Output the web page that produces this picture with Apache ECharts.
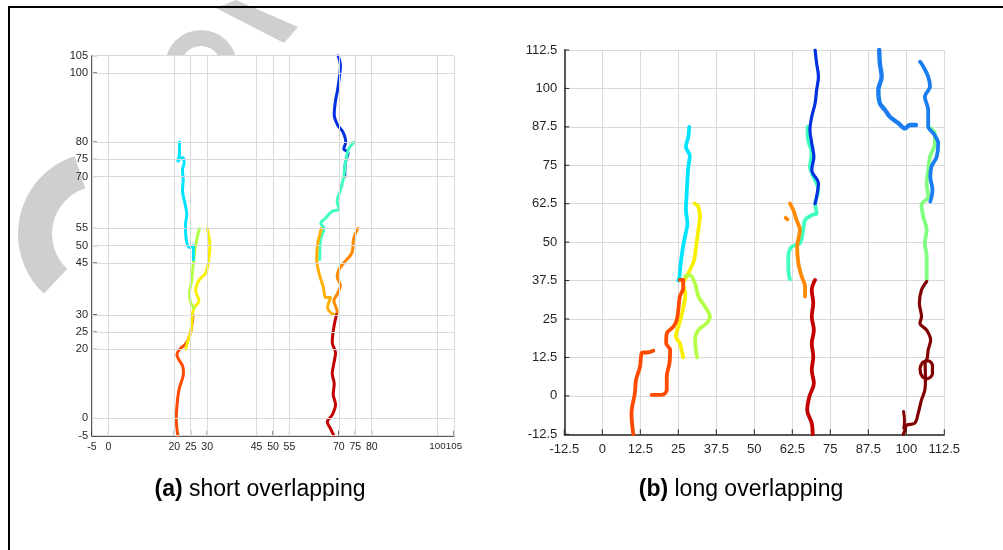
<!DOCTYPE html>
<html><head><meta charset="utf-8">
<script src="https://cdn.jsdelivr.net/npm/echarts@6/dist/echarts.min.js"></script>
<style>html,body{margin:0;padding:0;background:#fff}#c{width:1003px;height:550px}</style>
</head><body><div id="c"></div>
<script>
// ---- Tick values ----
const leftTicks = [-5, 0, 20, 25, 30, 45, 50, 55, 70, 75, 80, 100, 105];
const rightMin = -12.5, rightMax = 112.5, rightStep = 12.5;

// ---- (a) short overlapping trajectories [x, y] ----
const aOrangeRed = [[21.1,-5],[20.6,0],[20.8,3.4],[21.4,8.2],[22.3,11],[22.8,13],[22.6,15],[21.4,17],[20.8,18.4],[21.6,20],[23.6,21.7],[24.9,24.6],[25.4,27.5],[25.7,30]];
const aYellow = [[30,55],[30.8,50],[30.3,45],[29.5,42],[27.5,40],[26.5,37],[27.5,34],[26,32],[25.5,30],[25,25],[24,22],[23.5,20]];
const aYellowGreen = [[27.6,55],[26.5,50],[25.8,45],[25.3,40],[24.6,36],[25,33.5],[26,32]];
const aCyan = [[21.6,80],[21.6,77],[21.1,74.5],[22.5,75.5],[23,74],[22.5,72],[22.7,69],[22.5,66],[23.3,62],[23.8,59],[23.4,56],[23.6,52],[24.6,49.5],[25.8,50],[25.8,46]];
const aBlue = [[69.8,105],[70.5,102],[70.2,99],[69.6,95],[69,92],[68.6,88],[69.6,85],[71.2,83],[72.1,80],[71.5,78],[72.8,77],[72,74],[71.8,70]];
const aAqua = [[74.7,80],[73,78],[72,74],[71.5,70],[70.5,66],[69.5,63],[70,60.5],[68,60],[66,58],[64.5,56.5],[65.5,55],[64.5,52],[64.2,46]];
const aAmber = [[64.7,55],[63.5,50],[63.3,46],[64,42],[65.3,38],[66,35],[67.5,35],[66.6,32],[68.5,30]];
const aOrange = [[75.8,55],[74.5,52],[74,48],[71.5,45],[70,43],[69.5,41],[70.5,38.5],[69.5,36],[68.5,34],[69.5,31],[69.3,30]];
const aDarkRed = [[69.3,30],[68.6,27],[68,22],[69,19],[68.5,16],[68,13],[68.6,10],[68.3,7],[69,4],[68,1],[66.5,-1],[67.5,-3],[68.5,-5]];

// ---- (b) long overlapping trajectories [x, y] ----
const bCyan = [[28.6,87.5],[28.3,84.3],[27.5,81],[28.8,78],[28.3,74.6],[28,70.2],[27.7,64.8],[27.5,60.5],[28,56.1],[27.2,51.8],[26.4,47.5],[25.8,43.1],[25.3,38.2],[25,37.5]];
const bYellow = [[30.3,62.6],[31.6,61.5],[32.1,58.3],[31.6,54],[31,49.6],[30.2,44.2],[28.8,40.9],[27.2,37.9],[26.6,36.6],[27.3,33],[26.5,28],[25.5,24],[24.2,19.3],[25.5,17.1],[26.1,14.9],[26.6,12.5]];
const bYellowGreen = [[27.2,38.8],[28.8,39.3],[30.5,36.6],[31.6,32.3],[33.8,29],[35.4,25.8],[34.3,23.6],[31.6,21.4],[30.5,18.2],[30.8,14.9],[31.2,12.5]];
const bRedA = [[25.5,37.7],[26.6,37.7],[26.6,35],[25.5,32.3],[25,27.9],[24.5,24.7],[23.4,22.5],[21.2,20.3],[21,17.1],[22.3,15],[22.1,10.6],[21.2,6.3],[21.2,1.9],[19.5,0.3],[16.2,0.3]];
const bRedB = [[10.2,-12.5],[9.6,-5.7],[10.7,0.8],[11.1,5.2],[12.4,9.5],[12.9,13.8],[13.5,14.1],[14.6,14.1],[16.8,14.7]];
const bBlue = [[70,112.5],[70.5,108.2],[71.1,103.8],[70.5,99.5],[70,95.2],[68.9,90.8],[68.3,86.5],[68.9,82.1],[69.6,77.8],[68.9,73.5],[71.1,69.1],[70.5,64.8],[70,62.5]];
const bAqua = [[67.5,87.5],[67.7,83.2],[68.9,78.9],[68.3,74.6],[70,70.2],[71.1,67],[70,62.5],[70.5,59.4],[68.9,58.8],[66.7,57.2],[66.1,54],[65,49.6],[62.3,48.5],[61.2,45.3],[61.2,41],[61.7,37.9]];
const bOrange = [[61.7,62.6],[62.8,60.5],[63.9,57.2],[65,54],[64.1,48.5],[64.5,43.1],[65.6,38.8],[66.7,35.5],[66.7,32.3]];
const bOrangeDot = [[60.3,57.9],[60.9,57.4]];
const bDarkRed = [[70,37.7],[68.9,34.4],[69.4,30.1],[68.9,25.8],[69.6,21.4],[68.9,17.1],[69.4,12.7],[68.9,8.4],[69.6,4.1],[68.1,-0.3],[67.4,-4.6],[68.9,-8.9],[69.2,-12.5]];
const bAzureA = [[91.1,112.5],[91.3,108.2],[91.9,103.8],[90.8,99.5],[91.3,95.2],[93,93],[94.6,90.8],[97.4,88.7],[99.6,87],[101.2,88.1],[103.2,88.1]];
const bAzureB = [[104.5,108.7],[105.6,107.1],[107.2,103.8],[107.8,100.6],[106.1,97.3],[107.2,93],[107.2,87.5],[108.9,85.4],[110.5,82.1],[110,77.8],[108.3,74.6],[107.9,71.3],[108.6,67],[107.9,63.2]];
const bLightGreen = [[107.2,87.5],[109.4,85.4],[109.4,82.1],[107.8,77.8],[107.2,73.5],[106.7,69.1],[107.2,64.8],[105,62.1],[105.6,58.3],[106.7,54],[106.1,49.6],[106.7,45.3],[106.7,41],[106.7,37.7]];
const bMaroon = [[106.7,37.2],[105,34.4],[104.3,30.1],[105,25.8],[104.5,23.6],[106.7,21.4],[108,18.2],[107.2,14.9],[106.7,11.7],[105.3,10.8],[104.5,8.8],[105.3,6.2],[107,5.6],[108.6,7.2],[108.6,9.8],[107.3,11.4],[106.2,11],[106.3,5.5],[106.1,1.9],[105,-1.3],[103.9,-5.7],[102.8,-8.9],[100.1,-9.5],[99.6,-11.1],[99,-12.5]];
const bMaroonSpike = [[99.1,-5.1],[99.4,-8],[99.2,-10.5]];

// ---- colours ----
const C = {
  orangeRed:'#ff4a00', yellow:'#f8f000', yellowGreen:'#b4ff48', cyan:'#00e4ff',
  blue:'#0030e0', aqua:'#40ffc0', amber:'#ffb000', orange:'#ff8a00',
  darkRed:'#c20000', azure:'#1a7ef0', lightGreen:'#80ff80', maroon:'#820000'
};

const chart = echarts.init(document.getElementById('c'), null, {renderer:'canvas'});

function track(data, color, axis, width){
  return {type:'line', xAxisIndex:axis, yAxisIndex:axis, data:data, showSymbol:false,
    smooth:0.35, z:3, silent:true, lineStyle:{color:color, width:width, cap:'round', join:'round'}};
}
const axisLineStyle = {color:'#262626', width:1.5};
const gridLine = {color:'#dadada', width:1};
const font = 'Liberation Sans, Arial';

// inward ticks drawn through the axes' scales
function tickSeries(axis, xs, ys){
  const items = xs.map(v=>[v,'x']).concat(ys.map(v=>[v,'y']));
  return {type:'custom', xAxisIndex:axis, yAxisIndex:axis, z:4, silent:true, clip:false,
    data: items.map((d,i)=>[i]),
    renderItem:function(params, api){
      const it = items[api.value(0)];
      const cs = params.coordSys;
      let p, q;
      if (it[1]==='x'){ p = api.coord([it[0], 0]); p = [p[0], cs.y+cs.height]; q=[p[0], p[1]-5]; }
      else { p = api.coord([0, it[0]]); p = [cs.x, p[1]]; q=[p[0]+5, p[1]]; }
      return {type:'line', shape:{x1:p[0], y1:p[1], x2:q[0], y2:q[1]}, style:{stroke:'#262626', lineWidth:1}};
    }};
}
const rightTicks = [];
for (let v = rightMin; v <= rightMax + 1e-9; v += rightStep) rightTicks.push(v);

const option = {
  animation:false,
  backgroundColor:'#fff',
  grid:[
    {left:92, top:55.7, width:362, height:380, show:true, backgroundColor:'#fff', borderWidth:0, z:0},
    {left:564.3, top:50, width:380, height:384.3, show:true, backgroundColor:'#fff', borderWidth:0, z:0}
  ],
  xAxis:[
    {type:'value', gridIndex:0, min:-5, max:105,
      axisLine:{show:true, onZero:false, lineStyle:axisLineStyle},
      axisTick:{show:false},
      axisLabel:{customValues:leftTicks, color:'#262626', fontSize:10.5, fontFamily:font, margin:6,
        showMinLabel:true, showMaxLabel:true, hideOverlap:false,
        formatter:function(v){ return (v>=100) ? '{s|'+v+'}' : String(v); },
        rich:{s:{fontSize:9.8, fontFamily:font, color:'#262626'}}},
      splitLine:{show:false}},
    {type:'value', gridIndex:1, min:rightMin, max:rightMax, interval:rightStep,
      axisLine:{show:true, onZero:false, lineStyle:axisLineStyle},
      axisTick:{show:false},
      axisLabel:{color:'#262626', fontSize:13, fontFamily:font, margin:9, showMinLabel:true, showMaxLabel:true},
      splitLine:{show:true, lineStyle:gridLine}}
  ],
  yAxis:[
    {type:'value', gridIndex:0, min:-5, max:105,
      axisLine:{show:true, onZero:false, lineStyle:axisLineStyle},
      axisTick:{show:false},
      axisLabel:{customValues:leftTicks, color:'#262626', fontSize:11, fontFamily:font, margin:4, showMinLabel:true, showMaxLabel:true},
      splitLine:{show:false}},
    {type:'value', gridIndex:1, min:rightMin, max:rightMax, interval:rightStep,
      axisLine:{show:true, onZero:false, lineStyle:axisLineStyle},
      axisTick:{show:false},
      axisLabel:{color:'#262626', fontSize:13, fontFamily:font, margin:7, showMinLabel:true, showMaxLabel:true},
      splitLine:{show:true, lineStyle:gridLine}}
  ],
  series:[
    {type:'line', xAxisIndex:0, yAxisIndex:0, data:[], z:1, silent:true,
      markLine:{silent:true, symbol:'none', label:{show:false}, animation:false,
        lineStyle:{color:'#dadada', width:1, type:'solid'},
        emphasis:{disabled:true},
        data: leftTicks.map(v=>({xAxis:v})).concat(leftTicks.map(v=>({yAxis:v})))}},
    tickSeries(0, leftTicks, leftTicks),
    tickSeries(1, rightTicks, rightTicks),
    track(aOrangeRed, C.orangeRed, 0, 3),
    track(aYellow, C.yellow, 0, 3),
    track(aYellowGreen, C.yellowGreen, 0, 3),
    track(aCyan, C.cyan, 0, 3),
    track(aBlue, C.blue, 0, 3),
    track(aAqua, C.aqua, 0, 3),
    track(aAmber, C.amber, 0, 3),
    track(aOrange, C.orange, 0, 3),
    track(aDarkRed, C.darkRed, 0, 3),
    track(bYellow, C.yellow, 1, 3.8),
    track(bYellowGreen, C.yellowGreen, 1, 3.8),
    track(bCyan, C.cyan, 1, 3.8),
    track(bRedA, C.orangeRed, 1, 3.8),
    track(bRedB, C.orangeRed, 1, 3.8),
    track(bAqua, C.aqua, 1, 3.8),
    track(bBlue, C.blue, 1, 3.2),
    track(bOrange, C.orange, 1, 3.8),
    track(bOrangeDot, C.orange, 1, 3.8),
    track(bDarkRed, C.darkRed, 1, 3.8),
    track(bAzureA, C.azure, 1, 4.4),
    track(bLightGreen, C.lightGreen, 1, 3.8),
    track(bAzureB, C.azure, 1, 3.8),
    track(bMaroon, C.maroon, 1, 3.2),
    track(bMaroonSpike, C.maroon, 1, 3)
  ],
  graphic:[
    // faint watermark pieces (behind the plot areas)
    {type:'sector', z:-10, silent:true, shape:{cx:100, cy:234, r0:48, r:82, startAngle:Math.PI*0.74, endAngle:Math.PI*1.40}, style:{fill:'#cfcfcf'}},
    {type:'sector', z:-10, silent:true, shape:{cx:201, cy:66, r0:20, r:36, startAngle:Math.PI, endAngle:Math.PI*2}, style:{fill:'#cfcfcf'}},
    {type:'polygon', z:-10, silent:true, shape:{points:[[216,8],[236,0],[298,27],[284,43]]}, style:{fill:'#cfcfcf'}},
    // outer frame (top and left)
    {type:'polyline', z:100, silent:true, shape:{points:[[9,550],[9,7],[1003,7]]}, style:{stroke:'#000', lineWidth:2, fill:null}},
    // captions
    {type:'text', z:100, silent:true, x:260, y:490, style:{x:0, y:0, align:'center', verticalAlign:'middle',
      text:'{b|(a)} short overlapping', fontSize:23, fontFamily:font, fill:'#000',
      rich:{b:{fontWeight:'bold', fontSize:23, fontFamily:font, fill:'#000'}}}},
    {type:'text', z:100, silent:true, x:741, y:490, style:{x:0, y:0, align:'center', verticalAlign:'middle',
      text:'{b|(b)} long overlapping', fontSize:23, fontFamily:font, fill:'#000',
      rich:{b:{fontWeight:'bold', fontSize:23, fontFamily:font, fill:'#000'}}}}
  ]
};
chart.setOption(option);
</script>
</body></html>
